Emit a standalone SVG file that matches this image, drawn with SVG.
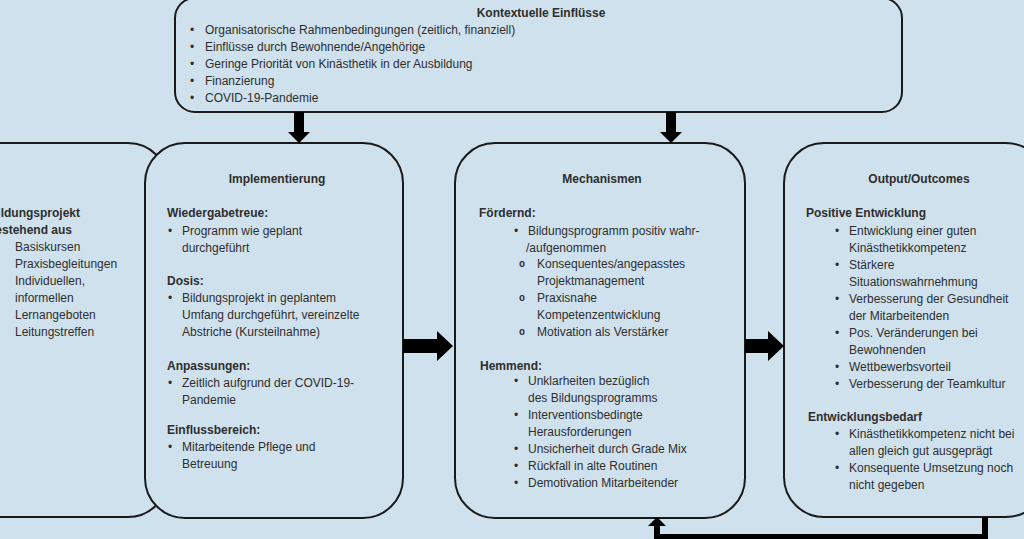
<svg xmlns="http://www.w3.org/2000/svg" width="1024" height="539" viewBox="0 0 1024 539">
<style>
.box{fill:#cfe1ed;stroke:#1a1a1a;stroke-width:2}
text{font-family:"Liberation Sans",Arial,sans-serif;font-size:12px;fill:#2e2e2e}
.b{font-weight:bold}
.t{font-weight:bold;text-anchor:middle}
.o{font-family:"Liberation Mono",monospace;font-weight:bold;font-size:10px}
.ar{fill:#000}
</style>
<rect width="1024" height="539" fill="#cfe1ed"/>
<g id="left-node">
<rect class="box" x="-100" y="143" width="268" height="374" rx="40"/>
<text x="80" y="217" class="b" text-anchor="end">Bildungsprojekt</text>
<text x="72" y="234" class="b" text-anchor="end">bestehend aus</text>
<text x="15" y="251">Basiskursen</text>
<text x="15" y="268">Praxisbegleitungen</text>
<text x="15" y="285">Individuellen,</text>
<text x="15" y="302">informellen</text>
<text x="15" y="319">Lernangeboten</text>
<text x="15" y="336">Leitungstreffen</text>
</g>
<g id="kontext">
<rect class="box" x="175" y="-2" width="727" height="114" rx="20"/>
<text x="541" y="17" class="t">Kontextuelle Einflüsse</text>
<text x="190" y="34">•</text><text x="205" y="34">Organisatorische Rahmenbedingungen (zeitlich, finanziell)</text>
<text x="190" y="51">•</text><text x="205" y="51">Einflüsse durch Bewohnende/Angehörige</text>
<text x="190" y="68">•</text><text x="205" y="68">Geringe Priorität von Kinästhetik in der Ausbildung</text>
<text x="190" y="85">•</text><text x="205" y="85">Finanzierung</text>
<text x="190" y="102">•</text><text x="205" y="102">COVID-19-Pandemie</text>
</g>
<g id="implementierung">
<rect class="box" x="145" y="143" width="258" height="375" rx="40"/>
<text x="277" y="183" class="t">Implementierung</text>
<text x="167" y="217" class="b">Wiedergabetreue:</text>
<text x="168" y="235">•</text><text x="182" y="235">Programm wie geplant</text>
<text x="182" y="252">durchgeführt</text>
<text x="167" y="285" class="b">Dosis:</text>
<text x="168" y="302">•</text><text x="182" y="302">Bildungsprojekt in geplantem</text>
<text x="182" y="319">Umfang durchgeführt, vereinzelte</text>
<text x="182" y="336">Abstriche (Kursteilnahme)</text>
<text x="167" y="370" class="b">Anpassungen:</text>
<text x="168" y="387">•</text><text x="182" y="387">Zeitlich aufgrund der COVID-19-</text>
<text x="182" y="404">Pandemie</text>
<text x="167" y="434" class="b">Einflussbereich:</text>
<text x="168" y="451">•</text><text x="182" y="451">Mitarbeitende Pflege und</text>
<text x="182" y="468">Betreuung</text>
</g>
<g id="mechanismen">
<rect class="box" x="455" y="143" width="290" height="375" rx="40"/>
<text x="602" y="183" class="t">Mechanismen</text>
<text x="479" y="217" class="b">Fördernd:</text>
<text x="514" y="235">•</text><text x="528" y="235">Bildungsprogramm positiv wahr-</text>
<text x="526" y="252">/aufgenommen</text>
<text x="519" y="267" class="o">o</text><text x="537" y="268">Konsequentes/angepasstes</text>
<text x="537" y="285">Projektmanagement</text>
<text x="519" y="301" class="o">o</text><text x="537" y="302">Praxisnahe</text>
<text x="537" y="319">Kompetenzentwicklung</text>
<text x="519" y="335" class="o">o</text><text x="537" y="336">Motivation als Verstärker</text>
<text x="480" y="370" class="b">Hemmend:</text>
<text x="514" y="385">•</text><text x="528" y="385">Unklarheiten bezüglich</text>
<text x="528" y="402">des Bildungsprogramms</text>
<text x="514" y="419">•</text><text x="528" y="419">Interventionsbedingte</text>
<text x="528" y="436">Herausforderungen</text>
<text x="514" y="453">•</text><text x="528" y="453">Unsicherheit durch Grade Mix</text>
<text x="514" y="470">•</text><text x="528" y="470">Rückfall in alte Routinen</text>
<text x="514" y="487">•</text><text x="528" y="487">Demotivation Mitarbeitender</text>
</g>
<g id="output">
<rect class="box" x="784" y="143" width="262" height="374" rx="40"/>
<text x="919" y="183" class="t">Output/Outcomes</text>
<text x="806" y="217" class="b">Positive Entwicklung</text>
<text x="835" y="235">•</text><text x="849" y="235">Entwicklung einer guten</text>
<text x="849" y="252">Kinästhetikkompetenz</text>
<text x="835" y="269">•</text><text x="849" y="269">Stärkere</text>
<text x="849" y="286">Situationswahrnehmung</text>
<text x="835" y="303">•</text><text x="849" y="303">Verbesserung der Gesundheit</text>
<text x="849" y="320">der Mitarbeitenden</text>
<text x="835" y="337">•</text><text x="849" y="337">Pos. Veränderungen bei</text>
<text x="849" y="354">Bewohnenden</text>
<text x="835" y="371">•</text><text x="849" y="371">Wettbewerbsvorteil</text>
<text x="835" y="388">•</text><text x="849" y="388">Verbesserung der Teamkultur</text>
<text x="808" y="421" class="b">Entwicklungsbedarf</text>
<text x="835" y="438">•</text><text x="849" y="438">Kinästhetikkompetenz nicht bei</text>
<text x="849" y="455">allen gleich gut ausgeprägt</text>
<text x="835" y="472">•</text><text x="849" y="472">Konsequente Umsetzung noch</text>
<text x="849" y="489">nicht gegeben</text>
</g>
<g id="connectors">
<polygon class="ar" points="294,112 304,112 304,132 310,132 299,143 288,132 294,132"/>
<polygon class="ar" points="666,112 676,112 676,132 682,132 671,143 660,132 666,132"/>
<polygon class="ar" points="403,339 437,339 437,331 453,346 437,361 437,353 403,353"/>
<polygon class="ar" points="745,339 768,339 768,331 784,346 768,361 768,353 745,353"/>
<polyline points="985,517 985,537 657,537 657,524" fill="none" stroke="#000" stroke-width="6"/>
<polygon class="ar" points="648,526 657,517 666,526"/>
</g>
</svg>
